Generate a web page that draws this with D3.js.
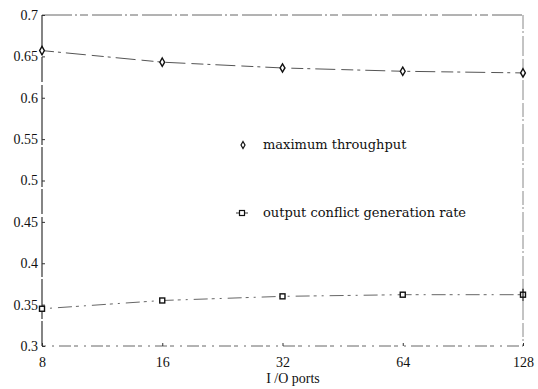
<!DOCTYPE html>
<html><head><meta charset="utf-8">
<script src="https://cdn.jsdelivr.net/npm/d3@7"></script>
<style>body{margin:0;background:#fff}svg{display:block}text{font-family:"Liberation Serif","DejaVu Serif",serif;fill:#111}</style>
</head><body><svg width="538" height="389"></svg>
<script>
const ports = [8, 16, 32, 64, 128];
const throughput = [0.657, 0.643, 0.636, 0.632, 0.630];
const conflictRate = [0.345, 0.355, 0.360, 0.362, 0.362];
const yTicks = [0.3, 0.35, 0.4, 0.45, 0.5, 0.55, 0.6, 0.65, 0.7];
const xLabel = "I /O ports";
const legendLabels = ["maximum throughput", "output conflict generation rate"];

const svg = d3.select("svg");
const L = 42, R = 523, T = 15, B = 346;
const x = d3.scaleLog().base(2).domain([8, 128]).range([L, R]);
const y = d3.scaleLinear().domain([0.3, 0.7]).range([B, T]);

// frame
svg.append("line").attr("x1", L).attr("x2", R).attr("y1", T).attr("y2", T)
  .attr("stroke", "#666").attr("stroke-width", 1).attr("stroke-dasharray", "30 3 2 3 8 4");
svg.append("line").attr("x1", R).attr("x2", R).attr("y1", T).attr("y2", B)
  .attr("stroke", "#888").attr("stroke-width", 1).attr("stroke-dasharray", "14 2 2 3 20 3");
svg.append("line").attr("x1", L).attr("x2", R).attr("y1", B).attr("y2", B)
  .attr("stroke", "#666").attr("stroke-width", 1).attr("stroke-dasharray", "4 6 2 5 12 3");
svg.append("line").attr("x1", L).attr("x2", L).attr("y1", T).attr("y2", B)
  .attr("stroke", "#222").attr("stroke-width", 1.1).attr("stroke-dasharray", "40 2 25 3 60 2");

// y axis
const yAxis = d3.axisLeft(y).tickValues(yTicks).tickSize(-3).tickPadding(4)
  .tickFormat(d => String(+d.toFixed(2)));
const gy = svg.append("g").attr("transform", `translate(${L},0)`).call(yAxis);
gy.select(".domain").remove();
gy.selectAll(".tick line").attr("stroke", "#333");
gy.selectAll("text").style("font-size", "14px").attr("fill", "#111");

// x axis
const xAxis = d3.axisBottom(x).tickValues(ports).tickSize(-3).tickPadding(11)
  .tickFormat(d3.format("d"));
const gx = svg.append("g").attr("transform", `translate(0,${B})`).call(xAxis);
gx.select(".domain").remove();
gx.selectAll(".tick line").attr("stroke", "#333");
gx.selectAll("text").style("font-size", "14px").attr("fill", "#111");

svg.append("text").attr("x", 293).attr("y", 383).attr("text-anchor", "middle")
  .style("font-size", "14px").text(xLabel);

// series lines
const line = d3.line().x((d, i) => x(ports[i])).y(d => y(d));
svg.append("path").datum(throughput).attr("d", line).attr("fill", "none")
  .attr("stroke", "#555").attr("stroke-width", 1).attr("stroke-dasharray", "12 4 3 5 20 6");
svg.append("path").datum(conflictRate).attr("d", line).attr("fill", "none")
  .attr("stroke", "#666").attr("stroke-width", 1).attr("stroke-dasharray", "3 5 2 6 14 4");

// markers
const diamond = d3.symbol().type(d3.symbolDiamond).size(20);
svg.selectAll(".dm").data(throughput).enter().append("path")
  .attr("transform", (d, i) => `translate(${x(ports[i])},${y(d)})`)
  .attr("d", diamond).attr("fill", "#fff").attr("stroke", "#111").attr("stroke-width", 1.4);
svg.selectAll(".sq").data(conflictRate).enter().append("rect")
  .attr("x", (d, i) => x(ports[i]) - 2.5).attr("y", d => y(d) - 2.5)
  .attr("width", 5).attr("height", 5).attr("fill", "#fff").attr("stroke", "#111").attr("stroke-width", 1.4);
// small vertical bar at last conflict point
svg.append("line").attr("x1", x(128)).attr("x2", x(128))
  .attr("y1", y(conflictRate[4]) - 6).attr("y2", y(conflictRate[4]) + 6)
  .attr("stroke", "#111").attr("stroke-width", 1.2);

// legend
const lg = svg.append("g");
lg.append("path").attr("transform", "translate(243,145)").attr("d", d3.symbol().type(d3.symbolDiamond).size(14))
  .attr("fill", "#fff").attr("stroke", "#111").attr("stroke-width", 1.2);
lg.append("text").attr("x", 263).attr("y", 149).style("font-family", "'DejaVu Serif',serif")
  .style("font-size", "13px").text(legendLabels[0]);
lg.append("line").attr("x1", 236).attr("x2", 248).attr("y1", 213).attr("y2", 213).attr("stroke", "#333");
lg.append("rect").attr("x", 239.5).attr("y", 210.5).attr("width", 5).attr("height", 5)
  .attr("fill", "#fff").attr("stroke", "#111").attr("stroke-width", 1.2);
lg.append("text").attr("x", 263).attr("y", 217).style("font-family", "'DejaVu Serif',serif")
  .style("font-size", "13px").text(legendLabels[1]);
</script></body></html>
